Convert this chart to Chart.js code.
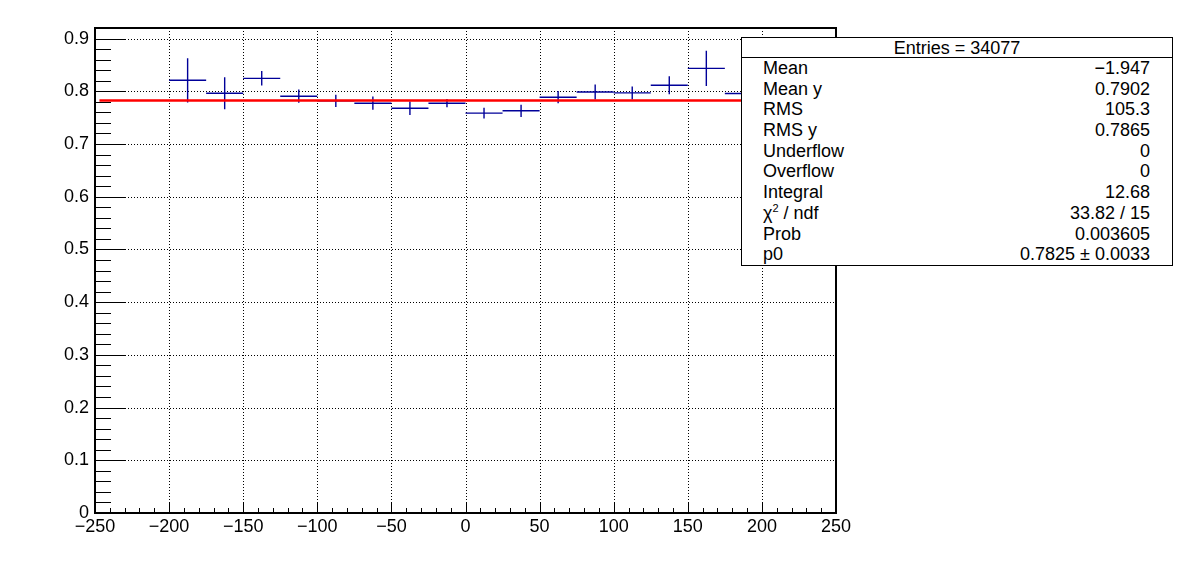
<!DOCTYPE html>
<html>
<head>
<meta charset="utf-8">
<script src="https://cdn.jsdelivr.net/npm/chart.js@4"></script>
<style>
  html, body { margin: 0; padding: 0; background: #fff; }
  #wrap { position: relative; width: 1196px; height: 572px; }
  #c { position: absolute; left: 0; top: 0; }
  #stats { position: absolute; left: 741px; top: 37px; width: 430px; height: 227px;
    border: 1px solid #000; background: #fff; font-family: "Liberation Sans", Arial, sans-serif;
    font-size: 18px; color: #000; box-sizing: content-box; }
  #stats .hdr { height: 19px; border-bottom: 1px solid #000; text-align: center; line-height: 20px; }
  #stats .row { position: relative; height: 20.7px; line-height: 20.7px; }
  #stats .row .l { position: absolute; left: 21px; }
  #stats .row .r { position: absolute; right: 22px; }
  #stats sup { font-size: 11px; vertical-align: 7px; line-height: 0; }
</style>
</head>
<body>
<div id="wrap">
  <canvas id="c" width="1196" height="572"></canvas>
  <div id="stats"></div>
</div>
<script>
// ---- data ----
const binCenters = [-187.5, -162.5, -137.5, -112.5, -87.5, -62.5, -37.5, -12.5, 12.5, 37.5, 62.5, 87.5, 112.5, 137.5, 162.5, 187.5];
const binHalfWidth = 12.5;
const yValues = [0.8208, 0.7962, 0.8245, 0.7906, 0.7818, 0.7774, 0.7679, 0.7774, 0.7585, 0.7629, 0.7887, 0.7987, 0.7969, 0.8113, 0.8434, 0.7958];
const yErrors = [0.0420, 0.0305, 0.0138, 0.0126, 0.0116, 0.0126, 0.0129, 0.0079, 0.0104, 0.0116, 0.0116, 0.0142, 0.0123, 0.0170, 0.0333, 0.0120];
const fitP0 = 0.7825;
const fitRange = [-247, 250];
const xTicks = [-250, -200, -150, -100, -50, 0, 50, 100, 150, 200, 250];
const yTicks = [0, 0.1, 0.2, 0.3, 0.4, 0.5, 0.6, 0.7, 0.8, 0.9];
const xRange = [-250, 250];
const yRange = [0, 0.92];
const statsHeader = "Entries = 34077";
const statsLabels = ["Mean", "Mean y", "RMS", "RMS y", "Underflow", "Overflow", "Integral", "χ<sup>2</sup> / ndf", "Prob", "p0"];
const statsValues = ["\u22121.947", "0.7902", "105.3", "0.7865", "0", "0", "12.68", "33.82 / 15", "0.003605", "0.7825 \u00b1 0.0033"];

// stats box
(function(){
  const s = document.getElementById('stats');
  let h = '<div class="hdr">' + statsHeader + '</div>';
  for (let i = 0; i < statsLabels.length; i++) {
    h += '<div class="row"><span class="l">' + statsLabels[i] + '</span><span class="r">' + statsValues[i] + '</span></div>';
  }
  s.innerHTML = h;
})();

const pts = binCenters.map((x, i) => ({ x: x, y: yValues[i], e: yErrors[i] }));

const rootPlugin = {
  id: 'rootStyle',
  beforeDatasetsDraw(chart) {
    const ctx = chart.ctx, xs = chart.scales.x, ys = chart.scales.y, a = chart.chartArea;
    ctx.save();
    // dotted grid
    ctx.strokeStyle = '#000';
    ctx.lineWidth = 1;
    ctx.setLineDash([1, 2]);
    xTicks.forEach(v => {
      const px = Math.round(xs.getPixelForValue(v)) + 0.5;
      ctx.beginPath(); ctx.moveTo(px, a.top); ctx.lineTo(px, a.bottom); ctx.stroke();
    });
    yTicks.forEach(v => {
      const py = Math.round(ys.getPixelForValue(v)) + 0.5;
      ctx.beginPath(); ctx.moveTo(a.left, py); ctx.lineTo(a.right, py); ctx.stroke();
    });
    ctx.setLineDash([]);
    // error crosses
    ctx.strokeStyle = '#000099';
    ctx.lineWidth = 1.4;
    pts.forEach(p => {
      const cx = xs.getPixelForValue(p.x), cy = ys.getPixelForValue(p.y);
      const x0 = xs.getPixelForValue(p.x - binHalfWidth), x1 = xs.getPixelForValue(p.x + binHalfWidth);
      const yt = ys.getPixelForValue(p.y + p.e), yb = ys.getPixelForValue(p.y - p.e);
      ctx.beginPath();
      ctx.moveTo(x0, cy); ctx.lineTo(x1, cy);
      ctx.moveTo(cx, yt); ctx.lineTo(cx, yb);
      ctx.stroke();
    });
    ctx.restore();
  },
  afterDatasetsDraw(chart) {
    const ctx = chart.ctx, xs = chart.scales.x, ys = chart.scales.y, a = chart.chartArea;
    ctx.save();
    ctx.strokeStyle = '#000';
    ctx.lineWidth = 1;
    // y ticks (major + minor), inward
    for (let i = 0; i < 46; i++) {
      const v = i * 0.02;
      if (v > yRange[1] + 1e-9) break;
      const major = (i % 5 === 0);
      const py = Math.round(ys.getPixelForValue(v)) + 0.5;
      ctx.beginPath(); ctx.moveTo(a.left, py); ctx.lineTo(a.left + (major ? 31 : 16), py); ctx.stroke();
    }
    // x ticks
    for (let v = xRange[0]; v <= xRange[1]; v += 10) {
      const major = (v % 50 === 0);
      const px = Math.round(xs.getPixelForValue(v)) + 0.5;
      ctx.beginPath(); ctx.moveTo(px, a.bottom); ctx.lineTo(px, a.bottom - (major ? 10 : 5)); ctx.stroke();
    }
    // frame
    ctx.lineWidth = 2;
    ctx.strokeRect(a.left, a.top, a.right - a.left, a.bottom - a.top);
    ctx.restore();
  }
};

new Chart(document.getElementById('c'), {
  type: 'scatter',
  data: {
    datasets: [
      { label: 'profile', data: pts, pointRadius: 0, showLine: false, borderColor: '#000099' },
      { label: 'fit', type: 'line', data: [{ x: fitRange[0], y: fitP0 }, { x: fitRange[1], y: fitP0 }],
        borderColor: '#ff0000', borderWidth: 2.5, pointRadius: 0, fill: false, tension: 0 }
    ]
  },
  options: {
    responsive: false,
    animation: false,
    events: [],
    layout: { padding: { left: 0, top: 28, right: 360, bottom: 0 } },
    plugins: { legend: { display: false }, tooltip: { enabled: false }, title: { display: false } },
    scales: {
      x: {
        type: 'linear', min: xRange[0], max: xRange[1],
        grid: { display: false, drawTicks: false },
        border: { display: false },
        afterBuildTicks: s => { s.ticks = xTicks.map(v => ({ value: v })); },
        afterFit: s => { s.height = 59; },
        ticks: {
          padding: 3, color: '#000', maxRotation: 0, autoSkip: false,
          font: { family: '"Liberation Sans", Arial, sans-serif', size: 18 },
          callback: v => String(v).replace('-', '\u2212')
        }
      },
      y: {
        type: 'linear', min: yRange[0], max: yRange[1],
        grid: { display: false, drawTicks: false },
        border: { display: false },
        afterBuildTicks: s => { s.ticks = yTicks.map(v => ({ value: v })); },
        afterFit: s => { s.width = 95; },
        ticks: {
          padding: 6, color: '#000', autoSkip: false,
          font: { family: '"Liberation Sans", Arial, sans-serif', size: 18 },
          callback: v => (Math.round(v * 10) / 10).toString()
        }
      }
    }
  },
  plugins: [rootPlugin]
});
</script>
</body>
</html>
